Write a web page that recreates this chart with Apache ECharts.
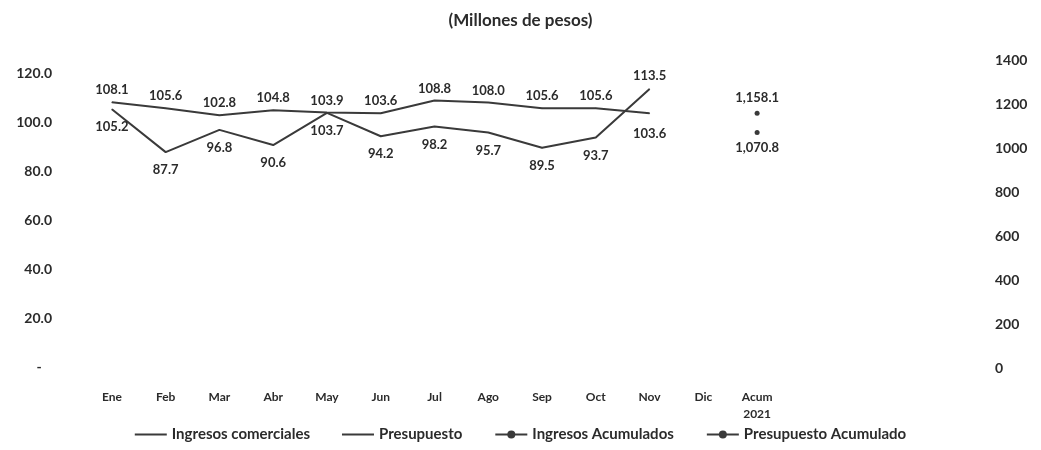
<!DOCTYPE html>
<html><head><meta charset="utf-8">
<script src="https://cdn.jsdelivr.net/npm/echarts@6/dist/echarts.min.js"></script>
<style>html,body{margin:0;padding:0;background:#fff}#c{width:1041px;height:450px}</style>
</head><body><div id="c"></div>
<script>
const categories = ['Ene','Feb','Mar','Abr','May','Jun','Jul','Ago','Sep','Oct','Nov','Dic','Acum\n2021'];
const ingresosComerciales = [105.2, 87.7, 96.8, 90.6, 103.7, 94.2, 98.2, 95.7, 89.5, 93.7, 113.5, null, null];
const presupuesto = [108.1, 105.6, 102.8, 104.8, 103.9, 103.6, 108.8, 108.0, 105.6, 105.6, 103.6, null, null];
const ingresosAcumulados = [null, null, null, null, null, null, null, null, null, null, null, null, 1070.8];
const presupuestoAcumulado = [null, null, null, null, null, null, null, null, null, null, null, null, 1158.1];
const leftTicks = [0, 20, 40, 60, 80, 100, 120];
const rightTicks = [0, 200, 400, 600, 800, 1000, 1200, 1400];

const FONT = 'Lato';
const TXT = '#2b2b2b';
const LINE = '#3a3a3a';
const fmt1 = v => v == null ? '' : v.toFixed(1);
const fmtThousands = v => v.toLocaleString('en-US', {minimumFractionDigits: 1, maximumFractionDigits: 1});

const ingData = ingresosComerciales.map((v, i) => ({
  value: v,
  label: { position: (i === 10) ? 'top' : 'bottom', distance: (i === 10) ? 6 : 11 }
}));
const preData = presupuesto.map((v, i) => ({
  value: v,
  label: { position: (i === 10) ? 'bottom' : 'top', distance: (i === 10) ? 14 : 5 }
}));

const dataLabel = { show: true, fontFamily: FONT, fontSize: 13, fontWeight: 'bold', color: TXT };

const chart = echarts.init(document.getElementById('c'), null, {renderer: 'canvas'});
chart.setOption({
  animation: false,
  backgroundColor: '#fff',
  textStyle: { fontFamily: FONT, color: TXT },
  title: {
    text: '(Millones de pesos)', left: 'center', top: 7,
    textStyle: { fontFamily: FONT, fontSize: 17, fontWeight: 'bold', color: TXT }
  },
  legend: {
    bottom: 3, left: 'center', itemGap: 32, itemWidth: 32, itemHeight: 10,
    textStyle: { fontFamily: FONT, fontSize: 15, fontWeight: 'bold', color: TXT },
    data: [
      { name: 'Ingresos comerciales', icon: 'path://M0,0H30V2H0Z' },
      { name: 'Presupuesto', icon: 'path://M0,0H30V2H0Z' },
      { name: 'Ingresos Acumulados' },
      { name: 'Presupuesto Acumulado' }
    ]
  },
  grid: [
    { left: 85, right: 257, top: 73, bottom: 83 },
    { left: 85, right: 257, top: 60, bottom: 82 }
  ],
  xAxis: [
    { type: 'category', gridIndex: 0, data: categories, boundaryGap: true,
      axisLine: { show: false }, axisTick: { show: false },
      axisLabel: { fontFamily: FONT, fontSize: 12, fontWeight: 'bold', color: TXT, margin: 22, lineHeight: 17, interval: 0 } },
    { type: 'category', gridIndex: 1, data: categories, boundaryGap: true, show: false }
  ],
  yAxis: [
    { type: 'value', gridIndex: 0, min: leftTicks[0], max: leftTicks[leftTicks.length - 1], interval: 20,
      splitLine: { show: false }, axisLine: { show: false }, axisTick: { show: false },
      axisLabel: { fontFamily: FONT, fontSize: 14, fontWeight: 'bold', color: TXT, margin: 33,
        formatter: v => v === 0 ? '-   ' : v.toFixed(1) } },
    { type: 'value', gridIndex: 1, position: 'right', offset: 203,
      min: rightTicks[0], max: rightTicks[rightTicks.length - 1], interval: 200,
      splitLine: { show: false }, axisLine: { show: false }, axisTick: { show: false },
      axisLabel: { fontFamily: FONT, fontSize: 14, fontWeight: 'bold', color: TXT, margin: 8,
        formatter: v => String(v) } }
  ],
  series: [
    { name: 'Ingresos comerciales', type: 'line', xAxisIndex: 0, yAxisIndex: 0, data: ingData,
      symbol: 'circle', symbolSize: 1, itemStyle: { color: LINE }, lineStyle: { color: LINE, width: 2 },
      label: Object.assign({}, dataLabel, { formatter: p => fmt1(p.value) }) },
    { name: 'Presupuesto', type: 'line', xAxisIndex: 0, yAxisIndex: 0, data: preData,
      symbol: 'circle', symbolSize: 1, itemStyle: { color: LINE }, lineStyle: { color: LINE, width: 2 },
      label: Object.assign({}, dataLabel, { formatter: p => fmt1(p.value) }) },
    { name: 'Ingresos Acumulados', type: 'line', xAxisIndex: 1, yAxisIndex: 1, data: ingresosAcumulados,
      symbol: 'circle', symbolSize: 5, itemStyle: { color: LINE }, lineStyle: { color: LINE, width: 2 },
      label: Object.assign({}, dataLabel, { position: 'bottom', distance: 6,
        formatter: p => p.value == null ? '' : fmtThousands(p.value) }) },
    { name: 'Presupuesto Acumulado', type: 'line', xAxisIndex: 1, yAxisIndex: 1, data: presupuestoAcumulado,
      symbol: 'circle', symbolSize: 5, itemStyle: { color: LINE }, lineStyle: { color: LINE, width: 2 },
      label: Object.assign({}, dataLabel, { position: 'top', distance: 6,
        formatter: p => p.value == null ? '' : fmtThousands(p.value) }) }
  ]
});
</script></body></html>
